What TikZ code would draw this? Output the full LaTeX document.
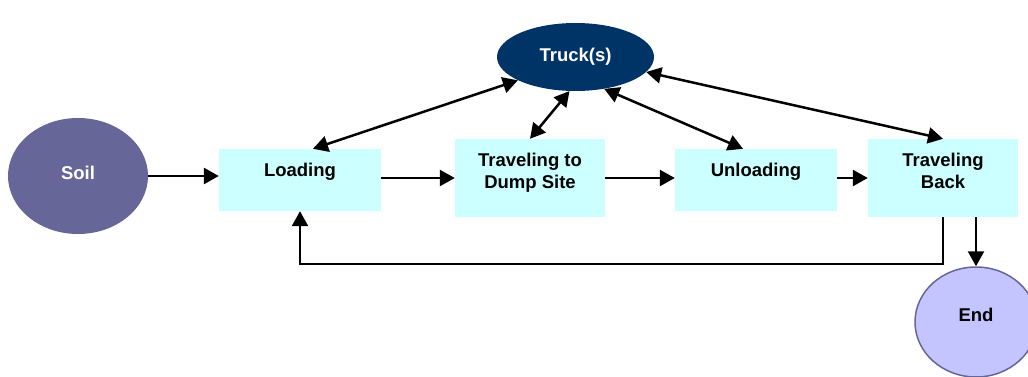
\documentclass[tikz,border=0pt]{standalone}
\usepackage{fontspec}
\setmainfont{Liberation Sans}
\usetikzlibrary{arrows.meta,shapes.geometric,calc}
\definecolor{soilc}{HTML}{666699}
\definecolor{truckc}{HTML}{003366}
\definecolor{boxc}{HTML}{CCFFFF}
\definecolor{endc}{HTML}{C4C4FF}

\begin{document}
\begin{tikzpicture}[x=1pt,y=-1pt,
  every node/.style={font=\fontsize{18.5}{22}\selectfont\bfseries},
  stepbox/.style={rectangle, fill=boxc, inner sep=0pt, align=center,
    minimum width=162pt, minimum height=62pt, text height=13pt, text depth=21pt},
  stepboxtwo/.style={rectangle, fill=boxc, inner sep=0pt, align=center,
    minimum width=150pt, minimum height=78pt, text height=35pt, text depth=13pt},
  blob/.style={ellipse, inner sep=0pt},
  conn/.style={line width=2.5pt, -{Triangle[length=15pt,width=16pt]}},
  bi/.style={line width=2.5pt, {Triangle[length=15pt,width=16pt]}-{Triangle[length=15pt,width=16pt]}}]

\useasboundingbox (0,0) rectangle (1028,377);

% states of the hauling cycle
\node[blob, fill=soilc, text=white, minimum width=140pt, minimum height=116pt, text depth=6pt] (soil) at (78,176) {Soil};
\node[blob, fill=truckc, text=white, minimum width=157pt, minimum height=68pt, text depth=4pt] (truck) at (575.5,57) {Truck(s)};
\node[stepbox] (load) at (300,180) {Loading};
\node[stepboxtwo] (dump) at (530,178) {Traveling to\\Dump Site};
\node[stepbox] (unload) at (756,180) {Unloading};
\node[stepboxtwo] (back) at (943,178) {Traveling\\Back};
\node[blob, fill=endc, draw=soilc, line width=1.5pt, minimum width=122pt, minimum height=110pt, text depth=14pt] (end) at (976,322) {End};

% main flow
\draw[conn] (soil.east) -- (soil.east -| load.west);
\draw[conn] (load.east |- dump.west) -- (dump.west);
\draw[conn] (dump.east) -- (dump.east -| unload.west);
\draw[conn] (unload.east |- back.west) -- (back.west);

% truck interactions
\draw[bi] ($(load.north)+(13,0)$) -- (truck.202);
\draw[bi] (dump.north) -- (truck.260);
\draw[bi] (truck.312) -- ($(unload.north)+(-13,0)$);
\draw[bi] (truck.348) -- (back.north);

% return loop and finish
\draw[conn] (back.south) |- ($(load.south)+(0,53)$) -- (load.south);
\draw[conn] ($(back.south)+(33,0)$) -- (end.north);
\end{tikzpicture}
\end{document}
